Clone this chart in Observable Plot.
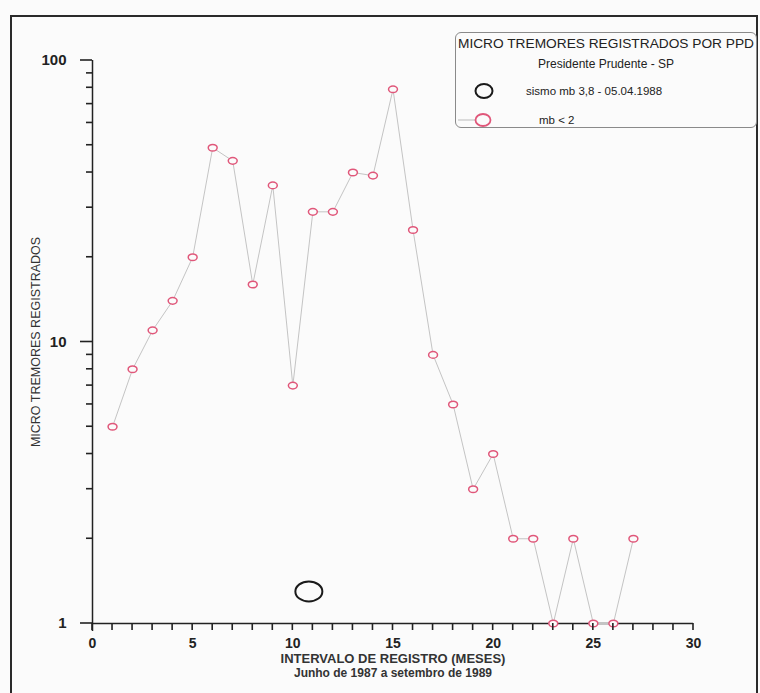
<!DOCTYPE html>
<html>
<head>
<meta charset="utf-8">
<script src="https://cdn.jsdelivr.net/npm/d3@7"></script>
<script src="https://cdn.jsdelivr.net/npm/@observablehq/plot@0.6"></script>
<style>
  html, body { margin: 0; padding: 0; background: #fbfbfb; }
  #wrap { position: relative; width: 760px; height: 693px; overflow: hidden; font-family: "Liberation Sans", Arial, sans-serif; }
  #frame { position: absolute; left: 10px; top: 15px; width: 744px; height: 720px; border: 2px solid #2a2a2a; pointer-events: none; }
  #legend { position: absolute; left: 455px; top: 32px; width: 300px; height: 94px; border: 1px solid #8a8a8a; border-radius: 6px; background: #fbfbfb; }
</style>
</head>
<body>
<div id="wrap">
  <div id="chart"></div>
  <div id="frame"></div>
  <div id="legend"></div>
</div>
<script>
// ---- data ----
const months = [1, 2, 3, 4, 5, 6, 7, 8, 9, 10, 11, 12, 13, 14, 15, 16, 17, 18, 19, 20, 21, 22, 23, 24, 25, 26, 27];
const tremors = [5, 8, 11, 14, 20, 49, 44, 16, 36, 7, 29, 29, 40, 39, 79, 25, 9, 6, 3, 4, 2, 2, 1, 2, 1, 1, 2];
const quakeMonth = [10.8];
const quakeLevel = [1.3];
const xTickLabels = [0, 5, 10, 15, 20, 25, 30];
const yTickLabels = [1, 10, 100];
const legendTitle = "MICRO TREMORES REGISTRADOS POR PPD";
const legendSubtitle = "Presidente Prudente - SP";
const legendQuake = "sismo mb 3,8 - 05.04.1988";
const legendSmall = "mb < 2";
const xLabel1 = "INTERVALO DE REGISTRO (MESES)";
const xLabel2 = "Junho de 1987 a setembro de 1989";
const yLabel = "MICRO TREMORES REGISTRADOS";

const series = months.map((m, i) => ({month: m, count: tremors[i]}));
const quake = quakeMonth.map((m, i) => ({month: m, count: quakeLevel[i]}));
const monthTicks = d3.range(0, 31);
const logMinorTicks = [2, 3, 4, 5, 6, 7, 8, 9, 20, 30, 40, 50, 60, 70, 80, 90];

// horizontal ellipse symbol
const ellipse = {
  draw(ctx, size) {
    const r = Math.sqrt(size / Math.PI);
    const rx = r * 1.35, ry = r, k = 0.5523;
    ctx.moveTo(rx, 0);
    ctx.bezierCurveTo(rx, ry * k, rx * k, ry, 0, ry);
    ctx.bezierCurveTo(-rx * k, ry, -rx, ry * k, -rx, 0);
    ctx.bezierCurveTo(-rx, -ry * k, -rx * k, -ry, 0, -ry);
    ctx.bezierCurveTo(rx * k, -ry, rx, -ry * k, rx, 0);
    ctx.closePath();
  }
};

const ink = "#222";
const chart = Plot.plot({
  width: 760,
  height: 693,
  marginLeft: 92,
  marginRight: 67,
  marginTop: 60,
  marginBottom: 70,
  style: {background: "transparent", fontFamily: "Liberation Sans, Arial, sans-serif", color: ink},
  x: {domain: [0, 30]},
  y: {type: "log", domain: [1, 100]},
  marks: [
    // axis lines
    Plot.ruleX([0], {y1: 100, y2: 1, insetBottom: -8, stroke: ink, strokeWidth: 1.5}),
    Plot.ruleY([1], {x1: 0, x2: 30, stroke: ink, strokeWidth: 1.5}),
    // tick labels
    Plot.axisY({ticks: yTickLabels, tickSize: 0, tickPadding: 26, tickFormat: d => String(d),
      fontSize: 15, fontWeight: "bold", fill: ink, label: null, style: {letterSpacing: "1.5px"}}),
    Plot.axisX({ticks: xTickLabels, tickSize: 0, tickPadding: 15, tickFormat: d => String(d),
      fontSize: 14, fontWeight: "bold", fill: ink, label: null}),
    // axis titles
    Plot.text([xLabel1], {frameAnchor: "bottom", dy: 39, fontSize: 13, fontWeight: "bold", fill: "#333"}),
    Plot.text([xLabel2], {frameAnchor: "bottom", dy: 53.5, fontSize: 12, fontWeight: "bold", fill: "#333"}),
    Plot.text([yLabel], {frameAnchor: "left", textAnchor: "middle", dx: -57, rotate: -90, fontSize: 12.5, fill: "#333"}),
    // data
    Plot.line(series, {x: "month", y: "count", stroke: "#c4c4c4", strokeWidth: 1}),
    Plot.dot(series, {x: "month", y: "count", symbol: ellipse, r: 3.3, stroke: "#e0577a", strokeWidth: 1.5, fill: "#fbfbfb"}),
    Plot.dot(quake, {x: "month", y: "count", symbol: ellipse, r: 10, stroke: "#1a1a1a", strokeWidth: 2, fill: "none"})
  ]
});
document.getElementById("chart").appendChild(chart);

// tick marks, positioned through the plot's own scales, drawn on top
const sx = chart.scale("x"), sy = chart.scale("y");
const x0 = sx.apply(0), y0 = sy.apply(1);
const tg = d3.select(chart).append("g").attr("stroke", ink).attr("stroke-width", 1.6).attr("fill", "none");
tg.selectAll(".xt").data(monthTicks).join("line")
  .attr("x1", d => sx.apply(d)).attr("x2", d => sx.apply(d)).attr("y1", y0).attr("y2", y0 + 7);
tg.selectAll(".ym").data(logMinorTicks).join("line")
  .attr("x1", x0 - 6).attr("x2", x0).attr("y1", d => sy.apply(d)).attr("y2", d => sy.apply(d));
tg.selectAll(".yM").data(yTickLabels).join("line")
  .attr("x1", x0 - 12).attr("x2", x0).attr("y1", d => sy.apply(d)).attr("y2", d => sy.apply(d));

// legend
const lg = d3.select("#legend").append("svg").attr("width", 300).attr("height", 94)
  .style("font-family", "Liberation Sans, Arial, sans-serif");
lg.append("text").attr("x", 150).attr("y", 10).attr("text-anchor", "middle").attr("dominant-baseline", "central")
  .attr("font-size", 13).attr("fill", "#222").attr("textLength", 296).attr("lengthAdjust", "spacingAndGlyphs").text(legendTitle);
lg.append("text").attr("x", 150).attr("y", 31).attr("text-anchor", "middle").attr("dominant-baseline", "central")
  .attr("font-size", 12).attr("fill", "#222").text(legendSubtitle);
lg.append("ellipse").attr("cx", 28).attr("cy", 58).attr("rx", 8.5).attr("ry", 7).attr("fill", "none").attr("stroke", "#1a1a1a").attr("stroke-width", 2);
lg.append("text").attr("x", 70).attr("y", 58).attr("dominant-baseline", "central")
  .attr("font-size", 11.5).attr("fill", "#222").text(legendQuake);
lg.append("line").attr("x1", 2).attr("x2", 19).attr("y1", 87).attr("y2", 87).attr("stroke", "#bbb").attr("stroke-width", 1);
lg.append("ellipse").attr("cx", 27).attr("cy", 87).attr("rx", 7.5).attr("ry", 6).attr("fill", "#fbfbfb").attr("stroke", "#e0577a").attr("stroke-width", 1.8);
lg.append("text").attr("x", 83).attr("y", 87).attr("dominant-baseline", "central")
  .attr("font-size", 11.5).attr("fill", "#222").text(legendSmall);
</script>
</body>
</html>
